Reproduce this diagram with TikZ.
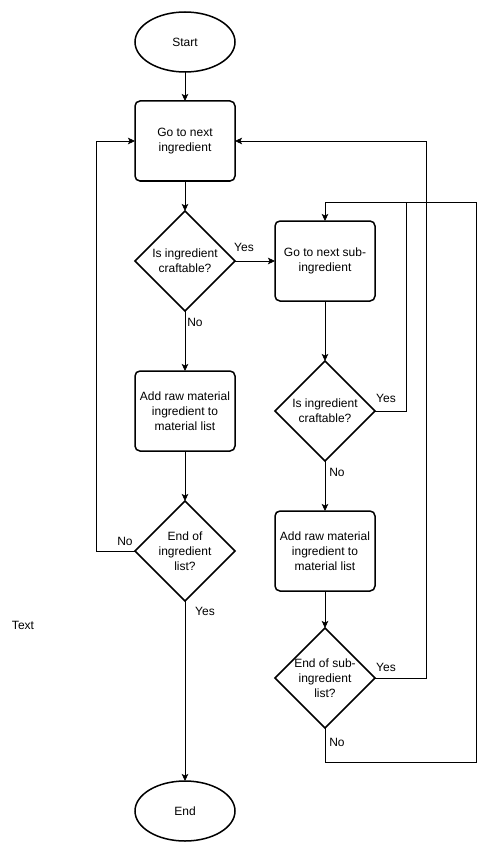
\documentclass[tikz,border=0pt]{standalone}
\usepackage{fontspec}
\setmainfont{Liberation Sans}
\usetikzlibrary{arrows.meta,shapes.geometric}

\begin{document}
\begin{tikzpicture}[>={Stealth[length=7pt,width=6.5pt,inset=1.5pt]},x=1pt,y=-1pt,
  every node/.style={font=\fontsize{12}{15}\selectfont,align=center},
  terminal/.style={draw,ellipse,line width=1.5pt,minimum width=100pt,minimum height=60pt,inner sep=0pt,outer sep=0pt},
  stepbox/.style={draw,rounded corners=5pt,line width=1.5pt,minimum width=100pt,minimum height=80pt,inner sep=0pt,outer sep=0pt},
  decision/.style={draw,diamond,line width=1.5pt,minimum width=100pt,minimum height=100pt,inner sep=0pt,outer sep=0pt},
  flow/.style={line width=0.8pt},
  lbl/.style={inner sep=0pt}]
\useasboundingbox (0,0) rectangle (495,853);

% Main ingredient loop on the left.
\node[terminal] (start) at (185,42) {Start};
\node[stepbox] (next) at (185,141) {Go to next\\ingredient};
\node[decision] (craft) at (185,261) {};
\node (craftT) at (craft) {Is ingredient\\craftable?};
\node[stepbox] (addraw) at (185,411) {Add raw material\\ingredient to\\material list};
\node[decision] (endlist) at (185,551) {};
\node (endlistT) at (endlist) {End of\\ingredient\\list?};
\node[terminal] (finish) at (185,811) {End};

% Sub-ingredient loop on the right.
\node[stepbox] (subnext) at (325,261) {Go to next sub-\\ingredient};
\node[decision] (subcraft) at (325,411) {};
\node (subcraftT) at (subcraft) {Is ingredient\\craftable?};
\node[stepbox] (subadd) at (325,551) {Add raw material\\ingredient to\\material list};
\node[decision] (subend) at (325,678) {};
\node (subendT) at (subend) {End of sub-\\ingredient\\list?};

\node (note) at (23,625) {Text};

% Corner points of the loop-back lines.
\coordinate (loopL) at (96,141);
\coordinate (topA) at (406,202);
\coordinate (midR) at (426,141);
\coordinate (farR) at (476,762);

\draw[->,flow] (start) -- (next);
\draw[->,flow] (next) -- (craft);
\draw[->,flow] (craft) -- (subnext);
\node[lbl] (yesA) at (244,247) {Yes};
\draw[->,flow] (craft) -- (addraw);
\node[lbl] (noA) at (195,322) {No};
\draw[->,flow] (addraw) -- (endlist);
\draw[->,flow] (endlist.west) -| (loopL) -- (next.west);
\node[lbl] (noB) at (125,541) {No};
\draw[->,flow] (endlist) -- (finish);
\node[lbl] (yesB) at (205,611) {Yes};

\draw[->,flow] (subnext) -- (subcraft);
\draw[->,flow] (subcraft.east) -| (topA) -| (subnext.north);
\node[lbl] (yesC) at (386,398) {Yes};
\draw[->,flow] (subcraft) -- (subadd);
\node[lbl] (noC) at (337,472) {No};
\draw[->,flow] (subadd) -- (subend);
\draw[->,flow] (subend.east) -| (midR) -- (next.east);
\node[lbl] (yesD) at (386,667) {Yes};
\draw[flow] (subend.south) |- (farR) |- (topA);
\node[lbl] (noD) at (337,742) {No};
\end{tikzpicture}
\end{document}
